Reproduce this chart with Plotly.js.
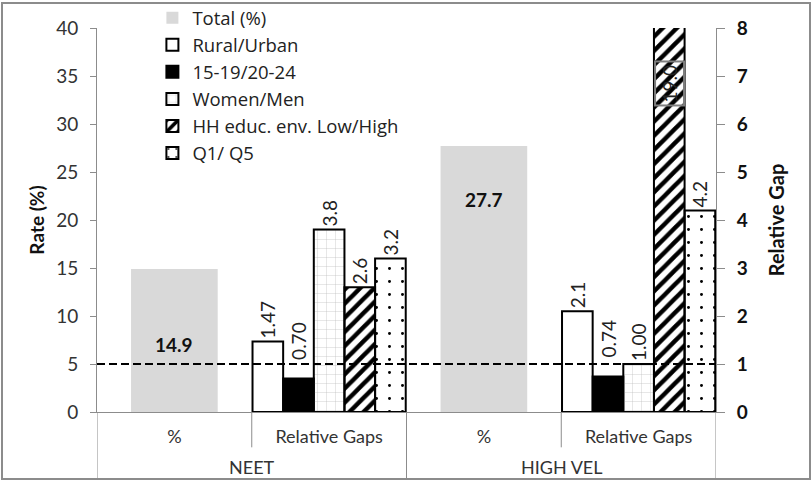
<!DOCTYPE html>
<html>
<head>
<meta charset="utf-8">
<script src="https://cdn.plot.ly/plotly-3.0.1.min.js"></script>
<style>
  html, body { margin: 0; padding: 0; background: #fff; }
  #wrap { position: relative; width: 811px; height: 480px; }
  #chart { width: 811px; height: 480px; }
  #frame { position: absolute; left: 1px; top: 2px; width: 806px; height: 474px;
           border: 2px solid #8c8c8c; pointer-events: none; }
</style>
</head>
<body>
<div id="wrap"><div id="chart"></div><div id="frame"></div></div>
<script>
// Category layout: two indicators, each split into the rate and its relative gaps
const groupLabels = ['NEET', 'HIGH VEL'];
const subLabels = ['%', 'Relative Gaps', '%', 'Relative Gaps'];

// Overall rates (%) on the left axis
const totalRate = [14.9, 27.7];

// Relative gaps (ratio) on the right axis, one value per indicator
const ruralUrban = [1.47, 2.1];
const ruralUrbanText = ['1.47', '2.1'];
const ageGap = [0.70, 0.74];
const ageGapText = ['0.70', '0.74'];
const womenMen = [3.8, 1.00];
const womenMenText = ['3.8', '1.00'];
const hhEduc = [2.6, 19.0];
const hhEducText = ['2.6', '19.0'];
const q1q5 = [3.2, 4.2];
const q1q5Text = ['3.2', '4.2'];

const FONT = 'Lato, "Open Sans", sans-serif';
const AXIS_GREY = '#8c8c8c';

const catPos = subLabels.map((_, i) => i);
const ratePos = catPos.filter(i => subLabels[i] === '%');
const gapPos = catPos.filter(i => subLabels[i] !== '%');

const BAR_W = 0.198;
function gapOffset(i) { return -0.495 + i * BAR_W; }

const labelFont = { family: FONT, size: 19, color: '#222' };

function gapTrace(name, values, texts, idx, marker, textpos) {
  return {
    type: 'bar', name: name,
    x: gapPos, y: values, yaxis: 'y2',
    width: BAR_W, offset: gapOffset(idx),
    text: texts, textposition: textpos || 'outside', textangle: -90,
    textfont: labelFont, constraintext: 'none', cliponaxis: true,
    marker: Object.assign({ line: { color: '#000', width: 2 } }, marker),
    hoverinfo: 'skip'
  };
}

const traces = [
  {
    type: 'bar', name: 'Total (%)',
    x: ratePos, y: totalRate, width: 0.56, offset: -0.28,
    marker: { color: '#d9d9d9', line: { width: 0 } },
    textposition: 'none', hoverinfo: 'skip'
  },
  gapTrace('Rural/Urban', ruralUrban, ruralUrbanText, 0, { color: '#ffffff' }),
  // age-ratio labels are lifted clear of the parity line (annotations below)
  gapTrace('15-19/20-24', ageGap, ageGapText, 1, { color: '#000000' }, 'none'),
  gapTrace('Women/Men', womenMen, womenMenText, 2,
    { color: '#ffffff', pattern: { shape: '+', fgcolor: '#b4b4b4', size: 9, solidity: 0.07 } }),
  gapTrace('HH educ. env. Low/High', hhEduc, hhEducText, 3,
    { color: '#ffffff', pattern: { shape: '/', fgcolor: '#000000', size: 10, solidity: 0.45 } },
    ['outside', 'none']),
  gapTrace('Q1/ Q5', q1q5, q1q5Text, 4,
    { color: '#ffffff', pattern: { shape: '.', fgcolor: '#000000', size: 13, solidity: 0.04 } })
];

// parity reference line and divider lines under the category axis
const shapes = [
  { type: 'line', xref: 'paper', yref: 'y2', x0: 0, x1: 1, y0: 1, y1: 1,
    line: { color: '#000', width: 2, dash: '8px,4px' }, layer: 'above' }
];
for (let b = -0.5; b <= subLabels.length - 0.5; b += 1) {
  const outer = Math.round(b + 0.5) % 2 === 0;
  shapes.push({ type: 'line', xref: 'x', yref: 'paper', x0: b, x1: b,
    y0: 0, y1: outer ? -0.177 : -0.092, line: { color: AXIS_GREY, width: 1 } });
}

const annotations = groupLabels.map((g, k) => ({
  xref: 'x', yref: 'paper', x: 2 * k + 0.5, y: -0.143, yanchor: 'middle',
  text: g, showarrow: false, font: { family: FONT, size: 18, color: '#333' }
}));
ageGap.forEach((v, k) => annotations.push({
  xref: 'x', yref: 'y2', x: gapPos[k] + gapOffset(1) + BAR_W / 2, y: v,
  yanchor: 'bottom', yshift: 17, text: ageGapText[k], textangle: -90,
  showarrow: false, font: labelFont
}));
annotations.push(
  { xref: 'x', yref: 'y', x: ratePos[0], y: 7.0, text: '<b>' + totalRate[0].toFixed(1) + '</b>',
    showarrow: false, font: { family: FONT, size: 19, color: '#111' } },
  { xref: 'x', yref: 'y', x: ratePos[1], y: 22.1, text: '<b>' + totalRate[1].toFixed(1) + '</b>',
    showarrow: false, font: { family: FONT, size: 19, color: '#111' } },
  // off-scale bar: value written inside the visible part
  { xref: 'x', yref: 'y2', x: gapPos[1] + gapOffset(3) + BAR_W / 2, y: 6.85,
    text: hhEducText[1], textangle: -90, showarrow: false,
    font: labelFont, bordercolor: '#7f7f7f', borderwidth: 2, borderpad: 2 }
);

const layout = {
  width: 811, height: 480,
  margin: { l: 97, r: 95, t: 28, b: 68, autoexpand: false },
  paper_bgcolor: '#ffffff', plot_bgcolor: '#ffffff',
  font: { family: FONT, color: '#333' },
  barmode: 'overlay',
  showlegend: true,
  legend: {
    x: 0.0895, y: 1.075, xanchor: 'left', yanchor: 'top',
    bgcolor: 'rgba(0,0,0,0)', font: { family: '"Open Sans", Lato, sans-serif', size: 18.5, color: '#222' },
    traceorder: 'normal', itemclick: false
  },
  xaxis: {
    range: [-0.5, subLabels.length - 0.5],
    tickmode: 'array', tickvals: catPos, ticktext: subLabels,
    showline: true, linecolor: AXIS_GREY, linewidth: 1, ticks: '',
    ticklabelstandoff: 8,
    tickfont: { family: FONT, size: 18, color: '#333' },
    showgrid: false, zeroline: false, fixedrange: true
  },
  yaxis: {
    range: [0, 40], dtick: 5, tick0: 0,
    showline: true, linecolor: AXIS_GREY, linewidth: 1,
    ticks: 'outside', ticklen: 6, tickcolor: AXIS_GREY, ticklabelstandoff: 8,
    showgrid: false, zeroline: false,
    tickfont: { family: FONT, size: 19, color: '#333' },
    title: { text: 'Rate (%)', font: { family: FONT, size: 19, weight: 'bold', color: '#111' }, standoff: 6 }
  },
  yaxis2: {
    overlaying: 'y', side: 'right', range: [0, 8], dtick: 1, tick0: 0,
    showline: true, linecolor: AXIS_GREY, linewidth: 1,
    ticks: 'outside', ticklen: 8, tickcolor: AXIS_GREY, ticklabelstandoff: 8,
    showgrid: false, zeroline: false,
    tickfont: { family: FONT, size: 19, weight: 'bold', color: '#111' },
    title: { text: 'Relative Gap', font: { family: FONT, size: 20, weight: 'bold', color: '#111' }, standoff: 23 }
  },
  shapes: shapes,
  annotations: annotations
};

Plotly.newPlot('chart', traces, layout, { displayModeBar: false, staticPlot: true });
</script>
</body>
</html>
